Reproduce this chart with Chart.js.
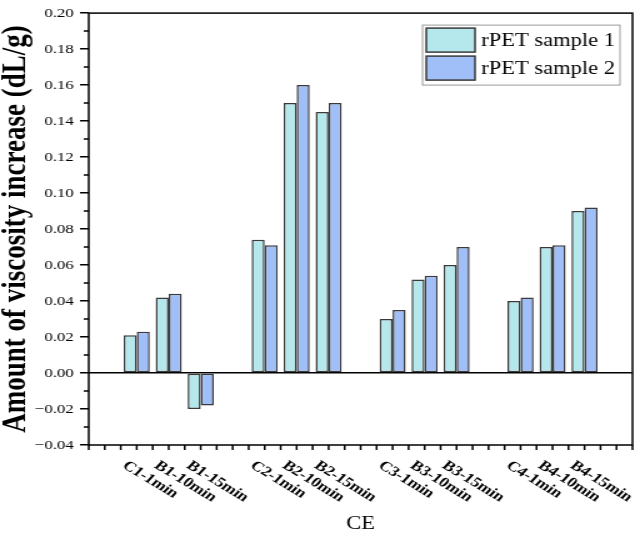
<!DOCTYPE html>
<html>
<head>
    <title>Amount of viscosity increase</title>
    <script src="https://cdn.jsdelivr.net/npm/chart.js"></script>
    <style>
        body { margin: 0; background: #fff; overflow: hidden; }
        /* the reference figure is stretched sideways, so draw narrow and widen */
        #chart {
            width: 508px;
            height: 533px;
            transform: scaleX(1.25);
            transform-origin: 0 0;
        }
    </style>
</head>
<body>
    <canvas id="chart" width="508" height="533"></canvas>

    <script>
        // Data (blank categories are the gaps between groups)
        const categories = ['', 'C1-1min', 'B1-10min', 'B1-15min', '',
                            'C2-1min', 'B2-10min', 'B2-15min', '',
                            'C3-1min', 'B3-10min', 'B3-15min', '',
                            'C4-1min', 'B4-10min', 'B4-15min', ''];
        const sample1 = [null, 0.021, 0.042, -0.020, null, 0.074, 0.150, 0.145, null,
                         0.030, 0.052, 0.060, null, 0.040, 0.070, 0.090, null];
        const sample2 = [null, 0.023, 0.044, -0.018, null, 0.071, 0.160, 0.150, null,
                         0.035, 0.054, 0.070, null, 0.042, 0.071, 0.092, null];
        const seriesNames = ['rPET sample 1', 'rPET sample 2'];
        const seriesColors = ['#b4e8ec', '#a0bef8'];
        const yMin = -0.04;
        const yMax = 0.20;
        const yStep = 0.02;
        const xTitle = 'CE';
        const yTitle = 'Amount of viscosity increase (dL/g)';

        const FONT = "'Liberation Serif', 'Times New Roman', serif";
        const INK = '#000';
        const EDGE = '#3a3a3a';

        function fmt(v) {
            return v.toFixed(2).replace('-', '\u2212');
        }

        // frame, minor ticks, rotated category labels and the legend box
        const decorPlugin = {
            id: 'decor',
            afterDraw(chart) {
                const { ctx, chartArea: a, scales: { x, y } } = chart;
                ctx.save();
                ctx.strokeStyle = INK;
                ctx.lineWidth = 1.5;
                ctx.strokeRect(a.left, a.top, a.right - a.left, a.bottom - a.top);

                // x ticks at every category centre and every category edge
                const half = (x.getPixelForValue(1) - x.getPixelForValue(0)) / 2;
                ctx.beginPath();
                for (let i = 0; i < categories.length; i++) {
                    const px = x.getPixelForValue(i);
                    [px - half, px].forEach(t => {
                        ctx.moveTo(t, a.bottom);
                        ctx.lineTo(t, a.bottom + 5);
                    });
                }
                const lastEdge = x.getPixelForValue(categories.length - 1) + half;
                ctx.moveTo(lastEdge, a.bottom);
                ctx.lineTo(lastEdge, a.bottom + 5);

                // y minor ticks halfway between the labelled ones
                for (let v = yMin + yStep / 2; v < yMax; v += yStep) {
                    const py = y.getPixelForValue(v);
                    ctx.moveTo(a.left, py);
                    ctx.lineTo(a.left - 4, py);
                }
                ctx.stroke();

                // category labels, turned clockwise
                ctx.fillStyle = INK;
                ctx.font = 'bold 14px ' + FONT;
                ctx.textAlign = 'left';
                ctx.textBaseline = 'middle';
                categories.forEach((label, i) => {
                    if (!label) return;
                    const px = x.getPixelForValue(i);
                    ctx.save();
                    ctx.translate(px - 10, a.bottom + 19);
                    ctx.rotate(37 * Math.PI / 180);
                    ctx.fillText(label, 0, 0);
                    ctx.restore();
                });

                // legend
                ctx.font = '18px ' + FONT;
                const textW = Math.max(...seriesNames.map(s => ctx.measureText(s).width));
                const swW = 39, swH = 24, rowH = 28, pad = 3, gap = 5;
                const boxW = pad + swW + gap + textW + 4;
                const boxH = rowH * seriesNames.length + 4;
                const boxX = a.right - 10 - boxW;
                const boxY = a.top + 12;
                ctx.fillStyle = '#fff';
                ctx.fillRect(boxX, boxY, boxW, boxH);
                ctx.strokeStyle = '#9a9a9a';
                ctx.lineWidth = 1;
                ctx.strokeRect(boxX, boxY, boxW, boxH);
                seriesNames.forEach((name, i) => {
                    const ry = boxY + 3 + i * rowH;
                    ctx.fillStyle = seriesColors[i];
                    ctx.fillRect(boxX + pad, ry, swW, swH);
                    ctx.strokeStyle = EDGE;
                    ctx.lineWidth = 1.5;
                    ctx.strokeRect(boxX + pad, ry, swW, swH);
                    ctx.fillStyle = INK;
                    ctx.textBaseline = 'middle';
                    ctx.fillText(name, boxX + pad + swW + gap, ry + swH / 2 + 1);
                });
                ctx.restore();
            }
        };

        new Chart(document.getElementById('chart'), {
            type: 'bar',
            data: {
                labels: categories,
                datasets: [sample1, sample2].map((values, i) => ({
                    label: seriesNames[i],
                    data: values,
                    backgroundColor: seriesColors[i],
                    borderColor: EDGE,
                    borderWidth: 1.5,
                    borderSkipped: false,
                    categoryPercentage: 0.814,
                    barPercentage: 1.0
                }))
            },
            options: {
                responsive: false,
                animation: false,
                layout: { padding: { top: 6, right: 2, left: 0, bottom: 0 } },
                plugins: {
                    legend: { display: false },
                    tooltip: { enabled: false }
                },
                scales: {
                    x: {
                        offset: true,
                        grid: { display: false },
                        border: { display: false },
                        ticks: { display: false },
                        title: {
                            display: true,
                            text: xTitle,
                            color: INK,
                            font: { family: FONT, size: 18, lineHeight: 1 },
                            padding: 0
                        },
                        afterFit(scale) { scale.height = 88; }
                    },
                    y: {
                        min: yMin,
                        max: yMax,
                        border: { display: false },
                        grid: {
                            color: c => (c.tick && Math.abs(c.tick.value) < 1e-9) ? INK : 'rgba(0,0,0,0)',
                            lineWidth: 1.5,
                            tickColor: INK,
                            tickWidth: 1.5,
                            tickLength: 7
                        },
                        ticks: {
                            stepSize: yStep,
                            color: INK,
                            padding: 5,
                            font: { family: FONT, size: 13.5 },
                            callback: v => fmt(v)
                        },
                        title: {
                            display: true,
                            text: yTitle,
                            color: INK,
                            font: { family: FONT, size: 27, weight: 'bold', lineHeight: 1 },
                            padding: 0
                        },
                        afterFit(scale) { scale.width = 71; }
                    }
                }
            },
            plugins: [decorPlugin]
        });
    </script>
</body>
</html>
